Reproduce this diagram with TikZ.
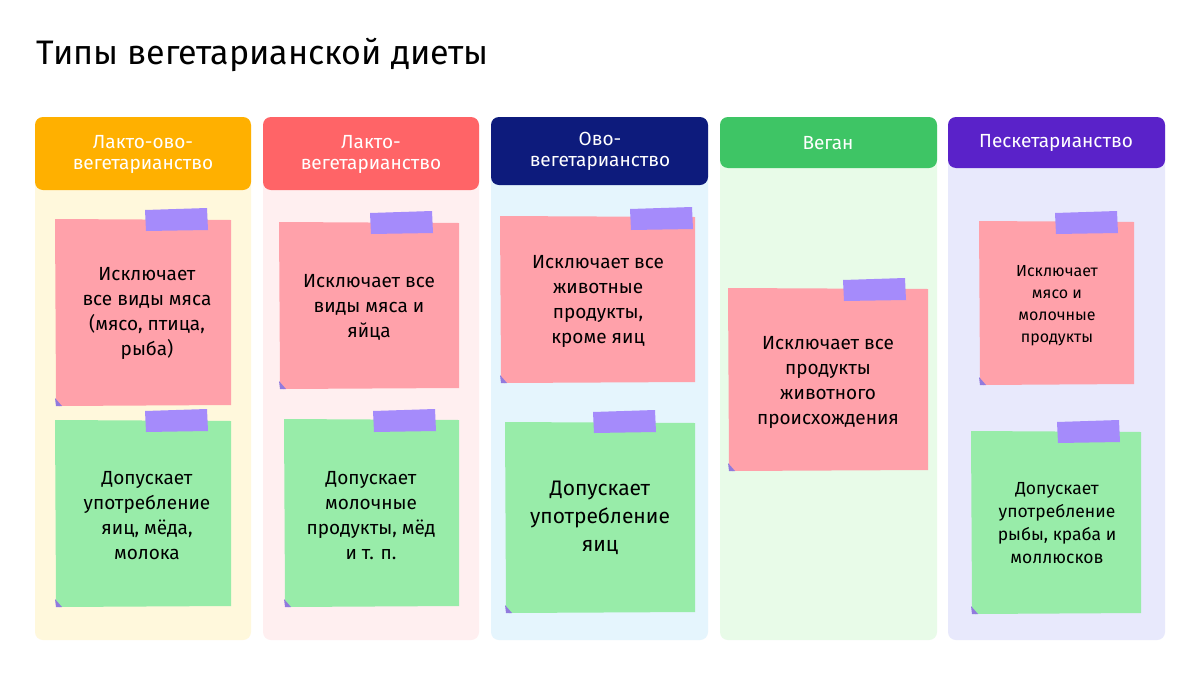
\documentclass[tikz,border=0pt]{standalone}
\usepackage{fontspec}
\setmainfont{Fira Sans}
\begin{document}
\begin{tikzpicture}[x=1pt,y=-1pt,
  panel/.style={rounded corners=8pt,draw=none},
  hdr/.style={rounded corners=8pt,draw=none,text=white,font=\fontsize{19}{21}\selectfont,align=center},
  pinknote/.style={fill=pink0},
  greennote/.style={fill=green0},
  tape/.style={fill=tape0},
  ntext/.style={align=center,font=\fontsize{19}{25}\selectfont,text=black}]
\definecolor{pink0}{HTML}{FFA1AA}
\definecolor{green0}{HTML}{98ECA9}
\definecolor{tape0}{HTML}{A58BFB}
\definecolor{p1}{HTML}{FFF8DC}\definecolor{p2}{HTML}{FFEFF0}\definecolor{p3}{HTML}{E5F5FD}\definecolor{p4}{HTML}{E8FBE8}\definecolor{p5}{HTML}{E8E9FC}
\definecolor{h1}{HTML}{FFB000}\definecolor{h2}{HTML}{FF6467}\definecolor{h3}{HTML}{0D1B7C}\definecolor{h4}{HTML}{3EC565}\definecolor{h5}{HTML}{5A22C9}
\useasboundingbox[fill=white] (0,0) rectangle (1200,675);
\node[anchor=west,font=\fontsize{34}{38}\selectfont] (title) at (33,55) {Типы вегетарианской диеты};
% panels
\fill[panel,p1] (35,117) rectangle (251,640);
\fill[panel,p2] (263,117) rectangle (479,640);
\fill[panel,p3] (491,117) rectangle (708,640);
\fill[panel,p4] (720,117) rectangle (937,640);
\fill[panel,p5] (948,117) rectangle (1165,640);
\fill[hdr,h1] (35,117) rectangle (251,190);
\fill[hdr,h2] (263,117) rectangle (479,190);
\fill[hdr,h3] (491,117) rectangle (708,185);
\fill[hdr,h4] (720,117) rectangle (937,168);
\fill[hdr,h5] (948,117) rectangle (1165,168);
\node[hdr] (t1) at (143,154) {Лакто-ово-\\вегетарианство};
\node[hdr] (t2) at (371,154) {Лакто-\\вегетарианство};
\node[hdr] (t3) at (600,151) {Ово-\\вегетарианство};
\node[hdr] (t4) at (828,143) {Веган};
\node[hdr] (t5) at (1056,143) {Пескетарианство};
% notes
\newcommand{\note}[7]{% style x1 y1 x2 y2 tapex tapey
  \fill[#1] (#2,#3) -- (#4,#3+1) -- (#4,#5) -- (#2+4,#5+1) -- (#2+1,#5-6) -- cycle;
  \fill[tape0!70!black!40!tape0] (#2,#5-7) -- (#2+7,#5+1) -- (#2+1,#5+1) -- cycle;
  \fill[tape] (#6,#7+2) -- (#6+62,#7) -- (#6+63,#7+22) -- (#6+1,#7+23) -- cycle;}
\note{pinknote}{55}{219}{231}{405}{145}{208}
\note{greennote}{55}{420}{231}{606}{145}{409}
\note{pinknote}{279}{222}{459}{388}{370}{211}
\note{greennote}{284}{419}{459}{606}{373}{409}
\note{pinknote}{500}{216}{695}{382}{630}{207}
\note{greennote}{505}{422}{695}{612}{593}{410}
\note{pinknote}{728}{288}{928}{470}{843}{278}
\note{pinknote}{979}{221}{1134}{384}{1055}{211}
\note{greennote}{971}{431}{1141}{613}{1057}{420}
\node[ntext] (n1) at (147,313) {Исключает\\все виды мяса\\(мясо, птица,\\рыба)};
\node[ntext] (n2) at (147,516) {Допускает\\употребление\\яиц, мёда,\\молока};
\node[ntext] (n3) at (369,307) {Исключает все\\виды мяса и\\яйца};
\node[ntext] (n4) at (371,516) {Допускает\\молочные\\продукты, мёд\\и т. п.};
\node[ntext] (n5) at (598,301) {Исключает все\\животные\\продукты,\\кроме яиц};
\node[ntext,font=\fontsize{21}{28}\selectfont] (n6) at (600,518) {Допускает\\употребление\\яиц};
\node[ntext] (n7) at (828,382) {Исключает все\\продукты\\животного\\происхождения};
\node[ntext,font=\fontsize{16}{22}\selectfont] (n8) at (1057,306) {Исключает\\мясо и\\молочные\\продукты};
\node[ntext,font=\fontsize{17.5}{23}\selectfont] (n9) at (1057,523) {Допускает\\употребление\\рыбы, краба и\\моллюсков};
\end{tikzpicture}
\end{document}
